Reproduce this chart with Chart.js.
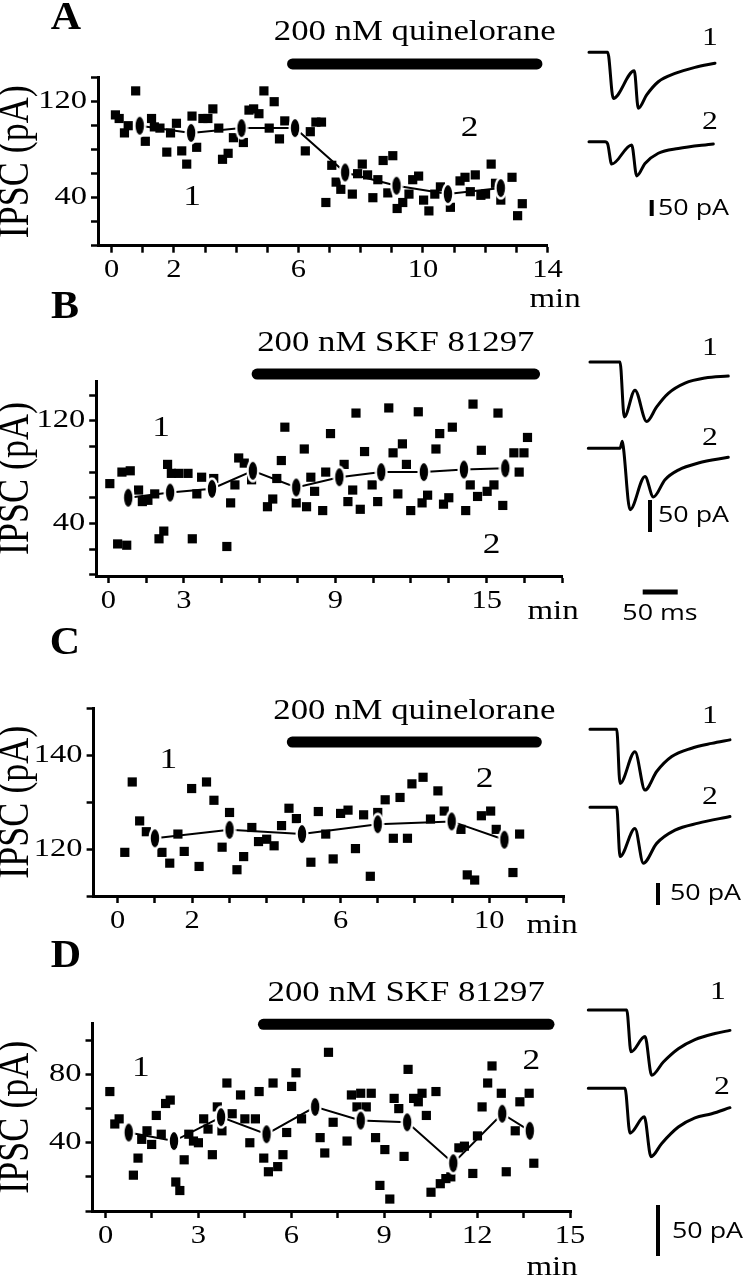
<!DOCTYPE html>
<html>
<head>
<meta charset="utf-8">
<script src="https://cdn.jsdelivr.net/npm/chart.js@4.4.0/dist/chart.umd.min.js"></script>
<style>
  html, body { margin: 0; padding: 0; background: #fff; }
  #fig { position: relative; width: 748px; height: 1280px; overflow: hidden; background: #fff; }
  #fig canvas { position: absolute; }
</style>
</head>
<body>
<div id="fig">
  <canvas id="panelA"></canvas>
  <canvas id="panelB"></canvas>
  <canvas id="panelC"></canvas>
  <canvas id="panelD"></canvas>
  <canvas id="insetA"></canvas>
  <canvas id="insetB"></canvas>
  <canvas id="insetC"></canvas>
  <canvas id="insetD"></canvas>
</div>
<script>
// ---- Panel A: quinelorane ----
const timeA = [0.12,0.24,0.41,0.53,0.77,1.08,1.28,1.37,1.55,1.77,1.89,2.08,2.25,2.41,2.58,2.73,2.93,3.09,3.25,3.44,3.56,3.74,3.91,4.23,4.41,4.56,4.73,4.89,5.06,5.22,5.39,5.56,6.22,6.38,6.56,6.74,6.88,7.07,7.21,7.36,7.73,7.90,8.05,8.22,8.39,8.55,8.72,8.87,9.03,9.17,9.35,9.55,9.67,9.86,10.02,10.19,10.38,10.56,10.88,11.19,11.35,11.52,11.68,11.86,12.01,12.19,12.33,12.50,12.86,13.04,13.19];
const ipscA = [109,106,94,100,129,87,106,99,98,78,94,102,79,68,108,82,106,106,114,98,72,77,90,86,113,114,110,129,98,120,89,104,79,95,103,103,36,67,53,47,43,60,68,59,40,55,71,44,75,31,36,43,55,58,38,29,43,49,32,54,57,45,59,42,43,68,52,38,57,25,35];
const avgTimeA = [0.90,2.55,4.17,5.89,7.50,9.15,10.80,12.50];
const avgIpscA = [100,94,98,98,61,50,43,48];
const drugA = [5.81, 13.66];
const xTicksA = [0,1,2,3,4,5,6,7,8,9,10,11,12,13,14];
const xLabelsA = [0,2,6,10,14];
const yTicksA = [0,20,40,60,80,100,120,140];
const yLabelsA = [40,120];

// ---- Panel B: SKF 81297 ----
const timeB = [0.06,0.37,0.54,0.73,0.87,1.20,1.35,1.57,1.84,2.01,2.20,2.35,2.50,2.79,3.16,3.33,3.51,3.70,4.18,4.70,4.85,5.02,5.17,5.39,5.68,6.31,6.52,6.68,6.86,7.00,7.45,7.77,7.86,8.03,8.18,8.50,8.62,8.81,9.35,9.50,9.69,9.82,9.99,10.16,10.46,10.68,11.12,11.29,11.48,11.66,11.82,11.99,12.29,12.44,12.66,12.99,13.14,13.29,13.50,13.64,14.17,14.35,14.46,14.64,14.79,15.02,15.29,15.45,15.64,16.08,16.29,16.48,16.62];
const ipscB = [71,24,80,23,81,66,57,58,63,28,34,86,79,79,79,28,63,76,75,22,56,70,91,87,74,53,59,75,89,115,56,98,53,76,65,50,80,110,86,57,66,126,51,96,70,57,130,95,63,102,86,50,127,56,62,98,110,55,60,115,50,70,133,61,97,65,70,126,54,95,80,95,107];
const avgTimeB = [0.79,2.45,4.11,5.73,7.45,9.16,10.82,12.51,14.10,15.74];
const avgIpscB = [60,64,67,81,68,76,80,80,82,83];
const drugB = [5.9, 16.9];
const xTicksB = [0,1.5,3,4.5,6,7.5,9,10.5,12,13.5,15,16.5,18];
const xLabelsB = [0,3,9,15];
const yTicksB = [0,20,40,60,80,100,120,140];
const yLabelsB = [40,120];

// ---- Panel C: quinelorane ----
const timeC = [0.19,0.39,0.59,0.77,1.19,1.40,1.62,1.79,1.99,2.19,2.39,2.59,2.81,3.01,3.21,3.39,3.61,3.79,4.01,4.21,4.41,4.61,4.81,5.20,5.40,5.60,5.80,6.00,6.20,6.40,6.62,6.80,7.00,7.20,7.42,7.60,7.80,7.92,8.22,8.42,8.62,8.79,9.24,9.41,9.61,9.79,10.04,10.19,10.64,10.82];
const ipscC = [119.3,134.3,126,123.7,119.3,117,123.2,119.5,132.9,116.3,134.3,130.4,120.4,127.8,115.6,118.4,124.6,121.6,122.1,120.7,125,128.7,126.5,117.2,128,123.2,117.9,127.6,128.3,120.1,127.3,114.2,127.8,130.5,122.3,131,122.3,133.9,135.3,126.4,132.4,128.1,124.2,114.5,113.4,127.1,128.1,124.2,115,123.2];
const avgTimeC = [1.00,3.01,4.96,7.00,8.99,10.41];
const avgIpscC = [122.3,124.1,123.2,125.3,125.9,122.0];
const drugC = [4.7, 11.27];
const xTicksC = [0,1,2,3,4,5,6,7,8,9,10,11,12];
const xLabelsC = [0,2,6,10];
const yTicksC = [110,120,130,140,150];
const yLabelsC = [120,140];

// ---- Panel D: SKF 81297 ----
const timeD = [0.14,0.30,0.44,0.90,1.05,1.17,1.34,1.49,1.64,1.80,1.94,2.09,2.27,2.40,2.54,2.69,2.84,3.00,3.17,3.31,3.45,3.61,3.76,3.92,4.09,4.36,4.50,4.66,4.84,4.96,5.11,5.26,5.41,5.56,5.73,5.85,6.01,6.15,6.33,6.93,7.08,7.20,7.35,7.80,7.94,8.12,8.24,8.42,8.58,8.72,8.86,9.02,9.18,9.32,9.47,9.64,9.77,9.95,10.10,10.22,10.36,10.51,10.67,10.81,10.99,11.15,11.41,11.59,11.86,12.01,12.16,12.34,12.48,12.78,12.94,13.23,13.38,13.68,13.83];
const ipscD = [70,51,54,21,31,42,47,39,56,45,63,65,17,12,30,45,41,40,54,48,33,61,47,75,57,68,54,40,54,70,31,23,75,26,33,46,73,81,54,43,34,93,52,41,68,61,69,61,69,43,15,36,7,66,60,32,83,66,64,69,56,11,70,16,19,20,37,38,22,44,61,75,85,69,23,47,64,69,28];
const avgTimeD = [0.75,2.21,3.73,5.20,6.77,8.24,9.74,11.23,12.81,13.70];
const avgIpscD = [46,41,55,45,61,53,52,28,57,47];
const drugD = [5.1, 14.32];
const xTicksD = [0,1.5,3,4.5,6,7.5,9,10.5,12,13.5,15];
const xLabelsD = [0,3,6,9,12,15];
const yTicksD = [0,20,40,60,80,100];
const yLabelsD = [40,80];

// ---- example traces (ms, pA from baseline) ----
const traceTimeA1 = [5.7,32.4,40.4,70.4,76.1,88.1,104.7,128.6,157.1,185.7];
const traceCurA1 = [0,0,-144,-58,-175,-133,-92,-66,-47,-34];
const traceTimeA2 = [5.7,28.6,32.4,38.1,66.7,73.9,85.7,104.7,133.3,183.3];
const traceCurA2 = [0,0,-7,-70,-10,-107,-68,-36,-21,-7];
const traceTimeB1 = [7.1,50,56.1,71.4,88.1,102.4,119,142.9,171.4,204.7];
const traceCurB1 = [0,0,-86,-44,-93,-70,-49,-33,-25,-22];
const traceTimeB2 = [4.7,50.1,53.3,55,64.3,85.7,97.6,114.3,133.3,161.9,204.7];
const traceCurB2 = [0,0,11,0,-96,-44,-76,-49,-34,-23,-14];
const traceTimeC1 = [7.1,45.3,50,71.4,85.7,102.4,123.9,152.4,181,207.1];
const traceCurC1 = [0,0,-123,-51,-138,-96,-62,-43,-32,-24];
const traceTimeC2 = [7.1,45.3,50,71.4,83.3,102.4,128.6,161.9,207.1];
const traceCurC2 = [0,0,-112,-48,-127,-82,-52,-36,-21];
const traceTimeD1 = [4.7,59.6,65.7,85.7,95.3,111.9,133.3,157.1,185.7,207.1];
const traceCurD1 = [0,0,-41,-26,-64,-51,-38,-29,-23,-20];
const traceTimeD2 = [4.7,57.1,64.3,84.7,94.3,109.6,133.3,157.1,181,207.1];
const traceCurD2 = [0,0,-44,-28,-67,-54,-38,-29,-25,-19];
const scaleBarPA = 50;
const scaleBarMS = 50;

// ---- look ----
const SERIF = '"Liberation Serif", "Times New Roman", serif';
const SANS = '"Open Sans", "DejaVu Sans", sans-serif';
const SX = 1.22; // the original figure is stretched sideways
const TICK_FONT = '25px ' + SERIF;
const TITLE_FONT = '36px ' + SERIF;
const LETTER_FONT = 'bold 40px ' + SERIF;
const DRUG_FONT = '28.5px ' + SERIF;
const MARK_FONT = '29px ' + SERIF;
const MIN_FONT = '27px ' + SERIF;
const BAR_FONT = '22px ' + SANS;
const INSET_LEFT = 585, INSET_W = 163, MS_PX = 0.7;

function put(ctx, text, x, y, font, align, rotate, sx) {
  ctx.save();
  ctx.font = font;
  ctx.fillStyle = '#000';
  ctx.textAlign = align || 'center';
  ctx.textBaseline = 'middle';
  ctx.translate(x, y);
  if (rotate) {
    ctx.rotate(-Math.PI / 2);
    ctx.scale(1, sx || SX);
  } else {
    ctx.scale(sx || SX, 1);
  }
  ctx.fillText(text, 0, 0);
  ctx.restore();
}

function ellipseMarker() {
  const c = document.createElement('canvas');
  c.width = 14; c.height = 24;
  const g = c.getContext('2d');
  g.fillStyle = '#fff';
  g.beginPath(); g.ellipse(7, 12, 6.5, 11.5, 0, 0, Math.PI * 2); g.fill();
  g.fillStyle = '#000';
  g.beginPath(); g.ellipse(7, 12, 4.2, 9, 0, 0, Math.PI * 2); g.fill();
  return c;
}
const ELLIPSE = ellipseMarker();

function panelTextPlugin(p) {
  return {
    id: 'panelText',
    afterDraw(chart) {
      const ctx = chart.ctx, a = chart.chartArea, xs = chart.scales.x, ys = chart.scales.y;
      p.xLabels.forEach(v => put(ctx, String(v), xs.getPixelForValue(v), a.bottom + 25, TICK_FONT));
      p.yLabels.forEach(v => put(ctx, String(v), a.left - 11, ys.getPixelForValue(v), TICK_FONT, 'right', false, 1.3));
      put(ctx, 'IPSC (pA)', 16, (a.top + a.bottom) / 2, TITLE_FONT, 'center', true);
      put(ctx, p.letter, p.letterPos[0], p.letterPos[1] - p.top, LETTER_FONT, 'center', false, 1.05);
      const bx = (xs.getPixelForValue(p.drug[0]) + xs.getPixelForValue(p.drug[1])) / 2;
      put(ctx, p.drugName, bx, ys.getPixelForValue(p.drugY) - 31, DRUG_FONT);
      p.marks.forEach(m => put(ctx, m.text, xs.getPixelForValue(m.x), ys.getPixelForValue(m.y), MARK_FONT));
      put(ctx, 'min', p.minPos[0], p.minPos[1] - p.top, MIN_FONT);
    }
  };
}

function makePanel(id, p) {
  const el = document.getElementById(id);
  el.width = 590; el.height = p.h;
  el.style.left = '0px'; el.style.top = p.top + 'px';
  const xAxisH = 30;
  const axisLook = {
    grid: { drawOnChartArea: false, drawTicks: true, tickLength: 7, tickWidth: 2.5, tickColor: '#000', color: '#000' },
    border: { display: true, color: '#000', width: 3 },
    ticks: { callback: () => '', autoSkip: false, maxRotation: 0, font: { size: 10 } }
  };
  return new Chart(el, {
    type: 'scatter',
    data: {
      datasets: [
        {
          type: 'line',
          data: [{ x: p.drug[0], y: p.drugY }, { x: p.drug[1], y: p.drugY }],
          borderColor: '#000', borderWidth: 11, borderCapStyle: 'round',
          pointRadius: 0, clip: false, order: 2
        },
        {
          data: p.t.map((x, i) => ({ x, y: p.v[i] })),
          pointStyle: 'rect', pointRadius: 6.5, backgroundColor: '#000',
          borderColor: '#000', borderWidth: 0, clip: false, order: 1
        },
        {
          type: 'line',
          data: p.avgT.map((x, i) => ({ x, y: p.avgV[i] })),
          borderColor: '#000', borderWidth: 2, pointStyle: ELLIPSE, pointRadius: 9,
          clip: false, order: 0
        }
      ]
    },
    options: {
      responsive: false, animation: false, devicePixelRatio: 1, events: [],
      layout: {
        padding: {
          left: 0,
          top: p.area.top - p.top,
          right: 590 - p.area.right,
          bottom: p.h - (p.area.bottom - p.top) - xAxisH
        }
      },
      plugins: { legend: { display: false }, tooltip: { enabled: false } },
      scales: {
        x: Object.assign({
          type: 'linear', min: p.xRange[0], max: p.xRange[1],
          afterFit: s => { s.height = xAxisH; },
          afterBuildTicks: s => { s.ticks = p.xTicks.map(v => ({ value: v })); }
        }, axisLook),
        y: Object.assign({
          type: 'linear', min: p.yRange[0], max: p.yRange[1],
          afterFit: s => { s.width = p.area.left; },
          afterBuildTicks: s => { s.ticks = p.yTicks.map(v => ({ value: v })); }
        }, axisLook)
      }
    },
    plugins: [panelTextPlugin(p)]
  });
}

function insetTextPlugin(s) {
  return {
    id: 'insetText',
    afterDraw(chart) {
      const ctx = chart.ctx;
      s.texts.forEach(t => put(ctx, t.text, t.x - INSET_LEFT, t.y - s.top, t.font, t.align || 'center'));
    }
  };
}

function makeInset(id, s) {
  const el = document.getElementById(id);
  el.width = INSET_W; el.height = s.h;
  el.style.left = INSET_LEFT + 'px'; el.style.top = s.top + 'px';
  const off = yPage => -(yPage - s.top) / s.k;
  const msAt = xPage => (xPage - INSET_LEFT) / MS_PX;
  const trace = (t, cur, base) => ({
    type: 'line',
    data: t.map((x, i) => ({ x, y: cur[i] + off(base) })),
    borderColor: '#000', borderWidth: 3, pointRadius: 0,
    cubicInterpolationMode: 'monotone', borderJoinStyle: 'round', borderCapStyle: 'round'
  });
  const datasets = s.traces.map(tr => trace(tr.t, tr.i, tr.base));
  const bx = msAt(s.barX);
  datasets.push({
    type: 'line',
    data: [{ x: bx, y: off(s.barTop) }, { x: bx, y: off(s.barTop) - scaleBarPA }],
    borderColor: '#000', borderWidth: 4, pointRadius: 0
  });
  if (s.msBar) {
    const mx = msAt(s.msBar.x);
    datasets.push({
      type: 'line',
      data: [{ x: mx, y: off(s.msBar.y) }, { x: mx + scaleBarMS, y: off(s.msBar.y) }],
      borderColor: '#000', borderWidth: 5, pointRadius: 0
    });
  }
  return new Chart(el, {
    type: 'scatter',
    data: { datasets },
    options: {
      responsive: false, animation: false, devicePixelRatio: 1, events: [],
      layout: { padding: 0 },
      plugins: { legend: { display: false }, tooltip: { enabled: false } },
      scales: {
        x: { type: 'linear', display: false, min: 0, max: INSET_W / MS_PX },
        y: { type: 'linear', display: false, min: -s.h / s.k, max: 0 }
      }
    },
    plugins: [insetTextPlugin(s)]
  });
}

// ---- build the four panels ----
makePanel('panelA', {
  top: 0, h: 320, area: { left: 98, right: 547.5, top: 77.7, bottom: 245.7 },
  xRange: [-0.44, 14], yRange: [0, 140],
  t: timeA, v: ipscA, avgT: avgTimeA, avgV: avgIpscA,
  drug: drugA, drugY: 151.5, drugName: '200 nM quinelorane',
  xTicks: xTicksA, xLabels: xLabelsA, yTicks: yTicksA, yLabels: yLabelsA,
  letter: 'A', letterPos: [66, 19],
  marks: [{ text: '1', x: 2.58, y: 40 }, { text: '2', x: 11.5, y: 98 }],
  minPos: [555, 300]
});
makePanel('panelB', {
  top: 285, h: 340, area: { left: 96.2, right: 562.3, top: 381, bottom: 576 },
  xRange: [-0.48, 18], yRange: [-1, 151],
  t: timeB, v: ipscB, avgT: avgTimeB, avgV: avgIpscB,
  drug: drugB, drugY: 156.4, drugName: '200 nM SKF 81297',
  xTicks: xTicksB, xLabels: xLabelsB, yTicks: yTicksB, yLabels: yLabelsB,
  letter: 'B', letterPos: [65, 308],
  marks: [{ text: '1', x: 2.09, y: 114 }, { text: '2', x: 15.2, y: 23 }],
  minPos: [553, 612]
});
makePanel('panelC', {
  top: 620, h: 330, area: { left: 93.6, right: 564.2, top: 708.3, bottom: 896 },
  xRange: [-0.65, 12.02], yRange: [110, 150],
  t: timeC, v: ipscC, avgT: avgTimeC, avgV: avgIpscC,
  drug: drugC, drugY: 142.8, drugName: '200 nM quinelorane',
  xTicks: xTicksC, xLabels: xLabelsC, yTicks: yTicksC, yLabels: yLabelsC,
  letter: 'C', letterPos: [65, 644],
  marks: [{ text: '1', x: 1.36, y: 139 }, { text: '2', x: 9.88, y: 134.9 }],
  minPos: [552, 926]
});
makePanel('panelD', {
  top: 930, h: 350, area: { left: 92.5, right: 571.6, top: 1023.3, bottom: 1211 },
  xRange: [-0.42, 15.05], yRange: [0, 110],
  t: timeD, v: ipscD, avgT: avgTimeD, avgV: avgIpscD,
  drug: drugD, drugY: 109.4, drugName: '200 nM SKF 81297',
  xTicks: xTicksD, xLabels: xLabelsD, yTicks: yTicksD, yLabels: yLabelsD,
  letter: 'D', letterPos: [66, 957],
  marks: [{ text: '1', x: 1.14, y: 83.7 }, { text: '2', x: 13.75, y: 87.4 }],
  minPos: [552, 1268]
});

// ---- example current traces ----
const TRACE_NUM_FONT = '26px ' + SERIF;
makeInset('insetA', {
  top: 20, h: 215, k: 0.32,
  traces: [{ t: traceTimeA1, i: traceCurA1, base: 52.3 }, { t: traceTimeA2, i: traceCurA2, base: 141.7 }],
  barX: 651.7, barTop: 200,
  texts: [
    { text: '1', x: 710, y: 38, font: TRACE_NUM_FONT },
    { text: '2', x: 710, y: 122, font: TRACE_NUM_FONT },
    { text: '50 pA', x: 658, y: 209, font: BAR_FONT, align: 'left' }
  ]
});
makeInset('insetB', {
  top: 330, h: 300, k: 0.64,
  traces: [{ t: traceTimeB1, i: traceCurB1, base: 362 }, { t: traceTimeB2, i: traceCurB2, base: 448.3 }],
  barX: 650, barTop: 500,
  msBar: { x: 642.7, y: 592 },
  texts: [
    { text: '1', x: 710, y: 348, font: TRACE_NUM_FONT },
    { text: '2', x: 710, y: 438, font: TRACE_NUM_FONT },
    { text: '50 pA', x: 658, y: 516, font: BAR_FONT, align: 'left' },
    { text: '50 ms', x: 660, y: 614, font: BAR_FONT }
  ]
});
makeInset('insetC', {
  top: 690, h: 230, k: 0.44,
  traces: [{ t: traceTimeC1, i: traceCurC1, base: 729.3 }, { t: traceTimeC2, i: traceCurC2, base: 807.3 }],
  barX: 658, barTop: 883,
  texts: [
    { text: '1', x: 710, y: 716, font: TRACE_NUM_FONT },
    { text: '2', x: 710, y: 797, font: TRACE_NUM_FONT },
    { text: '50 pA', x: 670, y: 894, font: BAR_FONT, align: 'left' }
  ]
});
makeInset('insetD', {
  top: 975, h: 300, k: 1.02,
  traces: [{ t: traceTimeD1, i: traceCurD1, base: 1010 }, { t: traceTimeD2, i: traceCurD2, base: 1088.3 }],
  barX: 658, barTop: 1205,
  texts: [
    { text: '1', x: 718, y: 992, font: TRACE_NUM_FONT },
    { text: '2', x: 722, y: 1087, font: TRACE_NUM_FONT },
    { text: '50 pA', x: 672, y: 1232, font: BAR_FONT, align: 'left' }
  ]
});
</script>
</body>
</html>
